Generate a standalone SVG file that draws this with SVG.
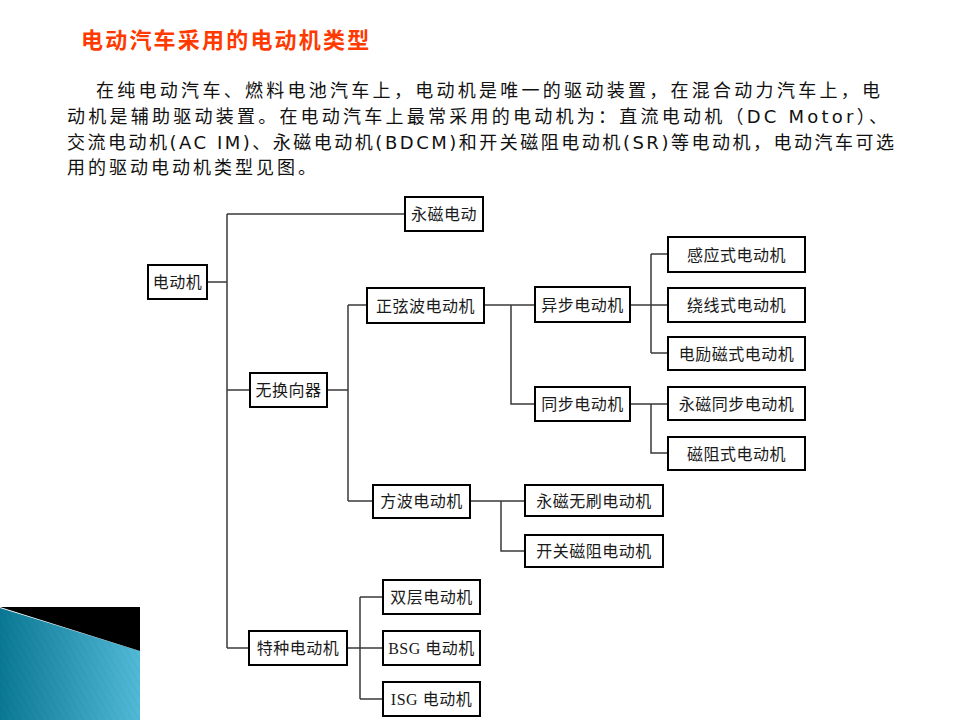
<svg xmlns="http://www.w3.org/2000/svg" width="960" height="720" viewBox="0 0 960 720">
<defs>
<style>
.box{fill:#fff;stroke:#000;stroke-width:2}
.lbl{font-family:"Liberation Serif","Noto Sans CJK SC",serif;font-size:16px;fill:#1a1a1a;text-anchor:middle;letter-spacing:0.5px}
.para{font-family:"DejaVu Sans","Noto Sans CJK SC",sans-serif;font-size:18px;fill:#111}
.conn{fill:none;stroke:#3a3a3a;stroke-width:1.5}
</style>
<linearGradient id="blue" x1="0" y1="0" x2="1" y2="0">
<stop offset="0" stop-color="#0a7894"/>
<stop offset="1" stop-color="#52b9d7"/>
</linearGradient>
<pattern id="stripes" width="6" height="6" patternUnits="userSpaceOnUse" patternTransform="rotate(-30)">
<rect width="6" height="6" fill="none"/>
<line x1="0" y1="0" x2="0" y2="6" stroke="#000" stroke-opacity="0.08" stroke-width="1"/>
</pattern>
</defs>
<rect width="960" height="720" fill="#fff"/>
<text x="81" y="48" font-family="Noto Sans CJK SC,sans-serif" font-size="22" font-weight="bold" fill="#ff3a00" letter-spacing="2.2">电动汽车采用的电动机类型</text>
<text class="para" x="96" y="97" textLength="784" lengthAdjust="spacing">在纯电动汽车、燃料电池汽车上，电动机是唯一的驱动装置，在混合动力汽车上，电</text>
<text class="para" x="67" y="123" textLength="820" lengthAdjust="spacing">动机是辅助驱动装置。在电动汽车上最常采用的电动机为：直流电动机（DC Motor）、</text>
<text class="para" x="67" y="149" textLength="827" lengthAdjust="spacing">交流电动机(AC IM)、永磁电动机(BDCM)和开关磁阻电动机(SR)等电动机，电动汽车可选</text>
<text class="para" x="67" y="174" letter-spacing="3">用的驱动电动机类型见图。</text>
<g id="decor">
<polygon points="0,608 140,651 140,720 0,720" fill="url(#blue)"/>
<polygon points="0,608 140,651 140,720 0,720" fill="url(#stripes)"/>
<polygon points="0,607 140,607 140,651" fill="#000"/>
</g>
<g id="connectors">
<path class="conn" d="M207,282H227M227,214V648M227,214H405M227,390H250M227,648H249"/>
<path class="conn" d="M327,390H348M348,305V501M348,305H367M348,501H373"/>
<path class="conn" d="M484,305H535M511,305V404H535"/>
<path class="conn" d="M630,305H668M651,254V353M651,254H668M651,353H668"/>
<path class="conn" d="M630,404H668M651,404V453H668"/>
<path class="conn" d="M470,501H525M501,501V551H525"/>
<path class="conn" d="M347,648H383M360,597V699M360,597H383M360,699H383"/>
</g>
<g id="n1"><rect class="box" x="148" y="265" width="59" height="34"/><text class="lbl" x="177.5" y="288">电动机</text></g>
<g id="n2"><rect class="box" x="405" y="197" width="78" height="34"/><text class="lbl" x="444" y="220">永磁电动</text></g>
<g id="n3"><rect class="box" x="250" y="373" width="77" height="34"/><text class="lbl" x="288.5" y="396">无换向器</text></g>
<g id="n4"><rect class="box" x="249" y="631" width="98" height="34"/><text class="lbl" x="298" y="654">特种电动机</text></g>
<g id="n5"><rect class="box" x="367" y="288" width="117" height="35"/><text class="lbl" x="425.5" y="312">正弦波电动机</text></g>
<g id="n6"><rect class="box" x="373" y="485" width="97" height="33"/><text class="lbl" x="421.5" y="507">方波电动机</text></g>
<g id="n7"><rect class="box" x="535" y="287" width="95" height="35"/><text class="lbl" x="582.5" y="311">异步电动机</text></g>
<g id="n8"><rect class="box" x="535" y="387" width="95" height="34"/><text class="lbl" x="582.5" y="410">同步电动机</text></g>
<g id="n9"><rect class="box" x="668" y="237" width="137" height="35"/><text class="lbl" x="736.5" y="261">感应式电动机</text></g>
<g id="n10"><rect class="box" x="668" y="288" width="137" height="34"/><text class="lbl" x="736.5" y="311">绕线式电动机</text></g>
<g id="n11"><rect class="box" x="668" y="337" width="137" height="33"/><text class="lbl" x="736.5" y="360">电励磁式电动机</text></g>
<g id="n12"><rect class="box" x="668" y="387" width="137" height="33"/><text class="lbl" x="736.5" y="410">永磁同步电动机</text></g>
<g id="n13"><rect class="box" x="668" y="437" width="137" height="33"/><text class="lbl" x="736.5" y="460">磁阻式电动机</text></g>
<g id="n14"><rect class="box" x="525" y="485" width="138" height="31"/><text class="lbl" x="594" y="507">永磁无刷电动机</text></g>
<g id="n15"><rect class="box" x="525" y="535" width="138" height="32"/><text class="lbl" x="594" y="557">开关磁阻电动机</text></g>
<g id="n16"><rect class="box" x="383" y="580" width="97" height="34"/><text class="lbl" x="431.5" y="603">双层电动机</text></g>
<g id="n17"><rect class="box" x="383" y="631" width="97" height="34"/><text class="lbl" x="431.5" y="654">BSG 电动机</text></g>
<g id="n18"><rect class="box" x="383" y="682" width="97" height="34"/><text class="lbl" x="431.5" y="705">ISG 电动机</text></g>
</svg>
